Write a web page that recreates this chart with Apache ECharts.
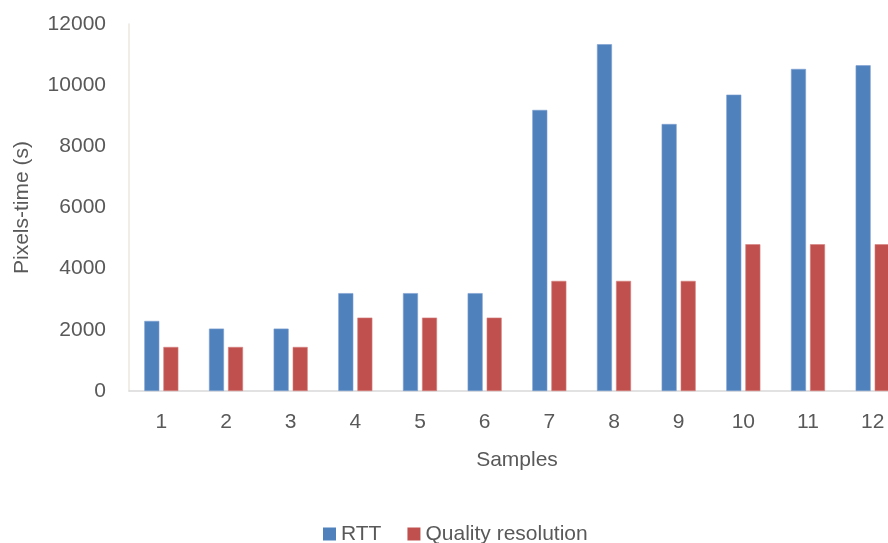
<!DOCTYPE html>
<html>
<head>
<meta charset="utf-8">
<script src="https://cdn.jsdelivr.net/npm/echarts@6/dist/echarts.min.js"></script>
<style>html,body{margin:0;padding:0;background:#fff;overflow:hidden;width:888px;height:543px}#c{width:906px;height:543px}</style>
</head>
<body>
<div id="c"></div>
<script>
const categories = ['1','2','3','4','5','6','7','8','9','10','11','12'];
const rtt = [2290, 2040, 2040, 3200, 3200, 3200, 9190, 11340, 8730, 9690, 10530, 10650];
const quality = [1440, 1440, 1440, 2400, 2400, 2400, 3600, 3600, 3600, 4800, 4800, 4800];
const seriesNames = ['RTT', 'Quality resolution'];
const xTitle = 'Samples';
const yTitle = 'Pixels-time (s)';

const font = 'Liberation Sans';
const chart = echarts.init(document.getElementById('c'), null, {renderer: 'canvas'});
chart.setOption({
  animation: false,
  textStyle: {fontFamily: font},
  grid: {left: 129, top: 24, height: 367, width: 776, containLabel: false},
  legend: {
    data: seriesNames,
    left: 318, top: 518,
    itemWidth: 13, itemHeight: 13, itemGap: 26,
    icon: 'rect',
    itemStyle: {borderWidth: 0},
    textStyle: {fontSize: 21, color: '#595959', fontFamily: font, lineHeight: 22}
  },
  xAxis: {
    type: 'category',
    data: categories,
    name: xTitle,
    nameLocation: 'middle',
    nameGap: 59,
    nameTextStyle: {fontSize: 21, color: '#595959', fontFamily: font},
    axisTick: {show: false},
    axisLine: {lineStyle: {color: '#d9d9d9', width: 1.5}},
    axisLabel: {fontSize: 21, color: '#595959', margin: 21, fontFamily: font}
  },
  yAxis: {
    type: 'value',
    min: 0, max: 12000, interval: 2000,
    name: yTitle,
    nameLocation: 'middle',
    nameGap: 96,
    nameTextStyle: {fontSize: 21, color: '#595959', fontFamily: font},
    axisLine: {show: true, lineStyle: {color: '#ebe7df', width: 1.5}},
    axisTick: {show: false},
    splitLine: {show: false},
    axisLabel: {fontSize: 21, color: '#595959', margin: 23, fontFamily: font,
      formatter: function (v) { return String(v); }}
  },
  series: [
    {name: seriesNames[0], type: 'bar', data: rtt, barWidth: 15, barGap: '27%',
     itemStyle: {color: '#4f81bd', borderColor: '#7d9fd0', borderWidth: 0.6}},
    {name: seriesNames[1], type: 'bar', data: quality, barWidth: 15,
     itemStyle: {color: '#c0504d', borderColor: '#d58280', borderWidth: 0.6}}
  ]
});
</script>
</body>
</html>
